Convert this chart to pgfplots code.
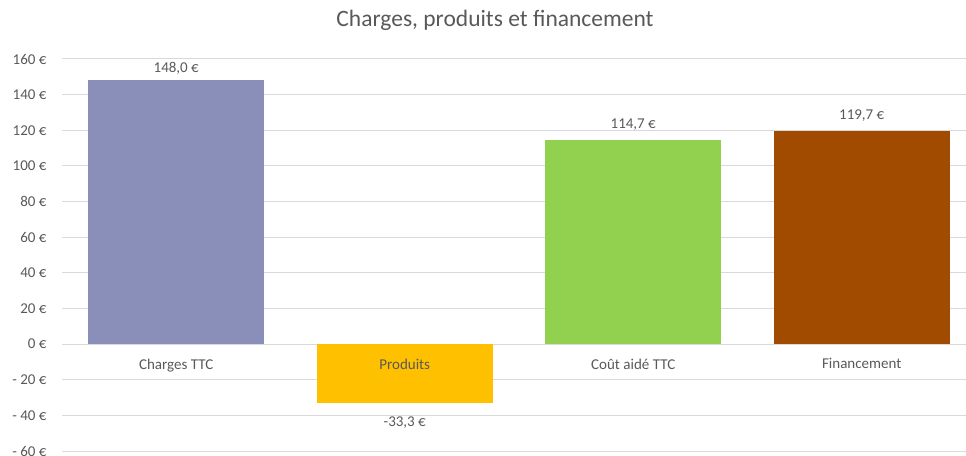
\documentclass[border=0pt]{standalone}
\usepackage{pgfplots}
\pgfplotsset{compat=1.18}
\usepackage{fontspec}
\setmainfont{Carlito}

\definecolor{txt}{HTML}{595959}
\definecolor{gridc}{HTML}{D9D9D9}
\definecolor{charges}{HTML}{8A8FBA}
\definecolor{produits}{HTML}{FFC000}
\definecolor{cout}{HTML}{92D050}
\definecolor{finance}{HTML}{A04B00}

% tick labels above the bars
\pgfplotsset{
    layers/labels on top/.define layer set={
        axis background,axis grid,axis ticks,axis lines,main,
        axis tick labels,axis descriptions,axis foreground
    }{/pgfplots/layers/standard},
}

\begin{document}
\begin{tikzpicture}
\begin{axis}[
    set layers=labels on top,
    scale only axis,
    width=914pt,height=392pt,
    xmin=-0.5,xmax=3.5,
    ymin=-60,ymax=160,
    ytick={-60,-40,...,160},
    yticklabels={- 60 €,- 40 €,- 20 €,0 €,20 €,40 €,60 €,80 €,100 €,120 €,140 €,160 €},
    xtick={0,1,2,3},
    xticklabels={Charges TTC,Produits,Coût aidé TTC,Financement},
    axis x line*=middle,
    axis y line*=left,
    axis line style={draw=none},
    major tick length=0pt,
    ymajorgrids,
    grid style={gridc,line width=1pt},
    tick label style={font=\fontsize{15}{18}\selectfont,text=txt},
    yticklabel style={xshift=-12pt},
    xticklabel style={yshift=-11pt},
    ybar,
    bar width=176pt,
]
\addplot[bar shift=0pt,fill=charges,draw=none,
    nodes near coords={148,0 €},
    every node near coord/.append style={font=\fontsize{15}{18}\selectfont,text=txt,yshift=2pt}]
    coordinates {(0,148.0)};
\addplot[bar shift=0pt,fill=produits,draw=none,
    nodes near coords={-33,3 €},
    every node near coord/.append style={font=\fontsize{15}{18}\selectfont,text=txt,anchor=north,yshift=-10pt}]
    coordinates {(1,-33.3)};
\addplot[bar shift=0pt,fill=cout,draw=none,
    nodes near coords={114,7 €},
    every node near coord/.append style={font=\fontsize{15}{18}\selectfont,text=txt,yshift=6pt}]
    coordinates {(2,114.7)};
\addplot[bar shift=0pt,fill=finance,draw=none,
    nodes near coords={119,7 €},
    every node near coord/.append style={font=\fontsize{15}{18}\selectfont,text=txt,yshift=6pt}]
    coordinates {(3,119.7)};
\end{axis}
\node[font=\fontsize{23.5}{28}\selectfont,text=txt] at (433pt,431pt) {Charges, produits et financement};
\pgfresetboundingbox
\path[use as bounding box] (-62pt,-4pt) rectangle (904pt,451pt);
\end{tikzpicture}
\end{document}
